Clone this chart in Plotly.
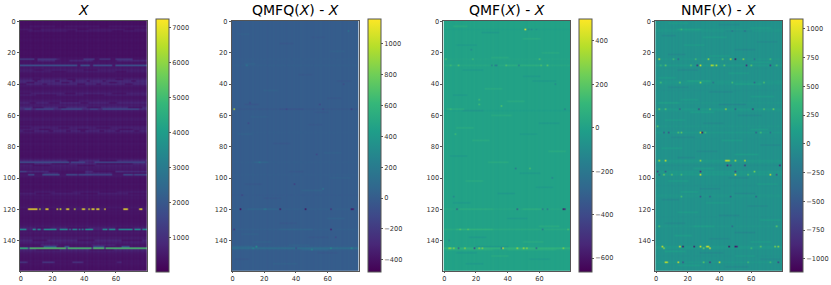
import plotly.graph_objects as go

N_ROWS = 160
N_COLS = 80
RANGES = [(10, 7220), (-482, 1159), (-666, 498), (-1119, 1081)]
TITLES = ["<i>X</i>", "QMFQ(<i>X</i>) - <i>X</i>", "QMF(<i>X</i>) - <i>X</i>", "NMF(<i>X</i>) - <i>X</i>"]
CB_TICKS = [
    [1000, 2000, 3000, 4000, 5000, 6000, 7000],
    [-400, -200, 0, 200, 400, 600, 800, 1000],
    [-600, -400, -200, 0, 200, 400],
    [-1000, -750, -500, -250, 0, 250, 500, 750, 1000],
]
ROW_TICKS = [0, 20, 40, 60, 80, 100, 120, 140]
COL_TICKS = [0, 20, 40, 60]

x_rows = [
    300, 320, 300, 480, 340, 500, 520, 320, 300, 340,
    300, 340, 360, 320, 300, 340, 320, 350, 300, 330,
    340, 320, 300, 380, 700, 800, 420, 450, 1500, 480,
    500, 600, 560, 420, 400, 380, 500, 650, 850, 750,
    800, 520, 420, 400, 460, 520, 650, 600, 420, 400,
    480, 560, 750, 550, 600, 850, 1000, 500, 420, 400,
    380, 420, 500, 520, 400, 440, 380, 550, 650, 600,
    750, 560, 420, 380, 360, 400, 380, 340, 420, 400,
    360, 380, 340, 400, 360, 350, 340, 380, 500, 800,
    1200, 750, 600, 560, 520, 480, 850, 700, 1100, 480,
    380, 360, 380, 340, 420, 360, 350, 380, 420, 560,
    600, 500, 420, 450, 400, 380, 380, 400, 420, 500,
    600, 420, 380, 400, 360, 350, 340, 380, 360, 400,
    420, 500, 650, 700, 420, 500, 450, 420, 550, 560,
    750, 650, 550, 700, 900, 1500, 700, 600, 480, 420,
    400, 380, 360, 420, 750, 420, 380, 350, 340, 320,
]
x_cols = [
    1.0, 0.9, 1.1, 0.95, 1.05, 0.9, 1.15, 1.0, 0.85, 1.1,
    0.95, 1.05, 0.9, 1.0, 1.2, 0.9, 1.05, 0.95, 1.1, 0.85,
    1.0, 1.1, 0.9, 1.05, 0.95, 1.15, 0.9, 1.0, 1.1, 0.85,
    1.05, 0.95, 1.1, 0.9, 1.0, 1.15, 0.85, 1.05, 0.95, 1.1,
    0.9, 1.0, 1.2, 0.9, 1.05, 0.85, 1.1, 0.95, 1.0, 1.15,
    0.9, 1.05, 0.95, 1.1, 0.85, 1.0, 1.1, 0.9, 1.05, 0.95,
    1.15, 0.9, 1.0, 1.1, 0.85, 1.05, 0.95, 1.1, 0.9, 1.0,
    1.15, 0.9, 1.05, 0.95, 1.1, 0.85, 1.0, 1.1, 0.9, 1.05,
]
# (row, first column, last column, value)
x_gaps = [
    (3, 0, 5, 340), (3, 22, 27, 340), (3, 50, 55, 330), (5, 8, 12, 330), (5, 36, 42, 320), (5, 66, 71, 330),
    (6, 0, 4, 320), (6, 30, 34, 340), (6, 58, 64, 320),
    (31, 9, 14, 400), (31, 40, 48, 400), (32, 20, 28, 380), (32, 60, 66, 380),
    (37, 8, 12, 420), (37, 30, 34, 400), (37, 60, 64, 420), (38, 9, 10, 420), (38, 22, 24, 420), (38, 33, 34, 400),
    (38, 42, 43, 400), (38, 52, 53, 400), (38, 70, 72, 400), (39, 4, 8, 400), (39, 26, 30, 420), (39, 56, 60, 400),
    (40, 0, 3, 400), (40, 14, 16, 420), (40, 36, 40, 400), (40, 48, 50, 400), (40, 66, 70, 420),
    (46, 0, 6, 420), (46, 28, 34, 400), (46, 58, 66, 420), (47, 10, 22, 400), (47, 40, 52, 400),
    (52, 6, 9, 400), (52, 18, 24, 420), (52, 38, 42, 400), (52, 56, 60, 400), (51, 26, 36, 400),
    (55, 8, 14, 450), (55, 24, 28, 450), (55, 42, 50, 450), (55, 68, 76, 450),
    (68, 0, 6, 400), (68, 24, 30, 400), (68, 48, 56, 400), (69, 12, 18, 380), (69, 36, 42, 400), (69, 62, 70, 400),
    (70, 2, 8, 420), (70, 18, 20, 400), (70, 29, 31, 400), (70, 38, 40, 400), (70, 50, 52, 400), (70, 60, 62, 400), (70, 72, 74, 400),
    (89, 30, 36, 400), (89, 50, 60, 400), (91, 0, 8, 400), (91, 20, 30, 420), (91, 48, 70, 400), (92, 8, 18, 400), (92, 36, 46, 400),
    (97, 0, 14, 400), (97, 24, 40, 400), (97, 58, 79, 400), (96, 18, 40, 400), (96, 46, 60, 400),
    (109, 0, 8, 380), (109, 22, 32, 380), (109, 50, 60, 380), (110, 10, 18, 380), (110, 38, 48, 380), (110, 68, 79, 400),
    (120, 0, 4, 350), (120, 11, 11, 350), (120, 18, 22, 360), (120, 31, 33, 380), (120, 54, 64, 380), (120, 68, 74, 380),
    (132, 10, 18, 400), (132, 30, 42, 400), (132, 60, 70, 400), (140, 8, 16, 400), (140, 36, 46, 400), (140, 64, 76, 400),
    (143, 0, 12, 400), (143, 24, 44, 420), (143, 60, 79, 420), (146, 10, 24, 400), (146, 44, 58, 400),
    (154, 5, 13, 380), (154, 22, 32, 380), (154, 40, 60, 380), (154, 64, 79, 400),
    (24, 9, 10, 400), (24, 25, 39, 420), (24, 47, 49, 400), (24, 57, 59, 400), (24, 71, 79, 420),
    (25, 0, 10, 420), (25, 22, 30, 420), (25, 46, 60, 400),
    (90, 31, 31, 500), (90, 41, 46, 700), (90, 79, 79, 500),
    (144, 0, 14, 500), (144, 23, 27, 500), (144, 31, 45, 500), (144, 53, 63, 500), (144, 69, 79, 500),
]
x_spans = [
    (24, 0, 8, 1300), (24, 11, 22, 1200), (24, 40, 46, 1200), (24, 50, 56, 1100),
    (24, 60, 70, 1200), (28, 0, 35, 1800), (28, 38, 43, 1800), (28, 46, 57, 1700), (28, 60, 79, 1800),
    (28, 36, 37, 500), (28, 44, 45, 500), (28, 58, 59, 500),
    (56, 3, 6, 1700), (56, 10, 20, 1600), (56, 26, 38, 1700), (56, 44, 48, 1600), (56, 52, 74, 1700),
    (90, 0, 30, 1700), (90, 32, 40, 1500), (90, 47, 78, 1500),
    (98, 0, 4, 500), (98, 9, 13, 500), (98, 25, 28, 500), (98, 58, 64, 500),
    (98, 5, 8, 1700), (98, 14, 24, 1800), (98, 29, 35, 1700), (98, 37, 44, 1600), (98, 45, 57, 1500),
    (98, 65, 70, 1700), (98, 72, 79, 1600), (96, 0, 3, 1400), (96, 60, 64, 1000),
    (120, 5, 6, 7100), (120, 7, 10, 7100), (120, 12, 12, 6400), (120, 16, 17, 7100), (120, 23, 23, 6800),
    (120, 25, 25, 6800), (120, 29, 30, 7100), (120, 34, 34, 6500), (120, 39, 40, 7100), (120, 43, 43, 6800),
    (120, 45, 46, 7100), (120, 48, 49, 7100), (120, 53, 53, 7000), (120, 65, 67, 7100), (120, 75, 76, 7100),
    (133, 0, 3, 3300), (133, 8, 9, 3200), (133, 11, 12, 3000), (133, 15, 22, 3300), (133, 25, 29, 3200),
    (133, 31, 31, 2800), (133, 33, 35, 3100), (133, 37, 37, 2800), (133, 39, 39, 3000), (133, 41, 45, 3300),
    (133, 52, 54, 3200), (133, 56, 59, 3300), (133, 62, 66, 3200), (133, 67, 70, 3300), (133, 72, 75, 3300),
    (133, 77, 79, 3200),
    (144, 15, 22, 1900), (144, 28, 30, 1700), (144, 46, 52, 1600), (144, 64, 68, 1700),
    (145, 0, 4, 4800), (145, 6, 28, 5200), (145, 30, 44, 5100), (145, 46, 52, 5200), (145, 54, 79, 5100),
    (145, 29, 29, 1200), (145, 45, 45, 1200), (145, 53, 53, 1200), (145, 5, 5, 1500),
    (154, 0, 3, 1100), (154, 14, 20, 1100), (154, 33, 38, 1000),
]

qmfq_row_levels = {24: 8, 28: 12, 56: -25, 71: 6, 90: 8, 98: 8, 111: -10, 120: 20, 133: 15, 145: 110, 146: 15, 144: 15}
qmfq_cols = [
    -8, 6, -4, 10, 0, -10, 6, -6, 4, -2, 8, -8, 2, 10, -4, 0, 6, -8, 4, -6,
    8, -2, -10, 6, 2, -6, 10, -4, 0, 6, -8, 4, -4, 8, -10, 2, 6, -6, 0, 8,
    -4, 4, -8, 10, -2, 0, 6, -6, 8, -4, 2, -10, 6, 0, -6, 8, 4, -8, 2, 6,
    -4, 10, -8, 0, 4, -6, 8, -2, 6, -10, 2, 4, -6, 8, 0, -4, 6, -8, 2, -2,
]
# (row, first column, last column, offset added to the cells)
qmfq_mottle = [
    (8, 4, 10, 25), (14, 30, 38, -25), (19, 62, 70, 25), (27, 8, 14, 30), (34, 42, 50, -25), (44, 20, 28, 25),
    (49, 60, 68, -25), (53, 8, 16, -35), (56, 30, 44, -30), (61, 12, 22, 25), (66, 48, 56, -25), (72, 4, 12, 30),
    (78, 26, 36, -25), (84, 58, 68, 25), (90, 14, 22, 40), (96, 36, 44, -25), (100, 62, 74, 25), (104, 8, 18, -30),
    (108, 44, 56, 35), (113, 20, 30, -25), (120, 10, 28, 35), (126, 60, 70, 30), (129, 30, 40, -25), (136, 6, 16, 25),
    (138, 48, 60, -25), (141, 14, 24, 30), (143, 36, 48, 25), (148, 54, 66, -25), (152, 2, 10, -30), (155, 26, 40, 25),
    (144, 0, 12, 40), (146, 44, 60, 40), (133, 30, 50, 30), (10, 50, 58, -20), (38, 66, 74, -30), (58, 52, 60, -25),
]
qmfq_cells = [
    (56, 1, 1000), (120, 5, -450), (120, 30, -400), (120, 46, -440), (120, 62, -280), (120, 75, -420),
    (120, 76, -380), (133, 1, -220), (133, 62, -350), (104, 39, -180), (111, 6, -150), (145, 40, -120),
    (144, 15, 320), (145, 13, 300), (145, 62, 330), (146, 50, 280), (145, 75, 320), (120, 20, 160),
    (120, 21, 180), (107, 57, 180), (90, 17, 160), (52, 11, -120), (53, 55, -130), (56, 34, -140), (56, 57, -130),
    (56, 75, -180), (6, 73, 130), (28, 9, 150), (65, 10, -110), (40, 70, -100), (85, 53, -120), (138, 65, -130),
]

qmf_row_levels = {5: -10, 24: 10, 28: 25, 57: -15, 120: 20, 133: 30, 145: 80, 146: 15}
qmf_cols = [
    3, -5, 5, -2, 7, 0, -6, 3, 6, -4, 2, -7, 4, 0, 5, -3, 7, -5, 1, 4,
    -6, 3, -1, 6, -4, 0, 7, -2, 4, -6, 2, 5, -3, 0, -7, 6, 1, -4, 5, 3,
    -5, 7, -1, 2, -6, 4, 0, 5, -3, 6, -4, 1, -7, 3, 5, -2, 4, -5, 7, 0,
    -3, 6, 2, -6, 4, -1, 5, -4, 7, 0, -5, 3, 1, -3, 6, -6, 4, -1, 5, -2,
]
qmf_mottle = [
    (3, 6, 14, 40), (7, 24, 34, -40), (11, 50, 60, 40), (15, 8, 20, -35), (20, 62, 72, 35), (23, 30, 40, 35),
    (31, 12, 24, -35), (35, 50, 60, -35), (38, 56, 70, -40), (43, 26, 36, 40), (47, 6, 14, -40), (51, 40, 50, 40),
    (56, 2, 12, 50), (57, 12, 24, -40), (60, 30, 42, 35), (65, 60, 72, -40), (68, 8, 18, 40), (72, 48, 58, -35),
    (76, 18, 28, 35), (83, 66, 76, 40), (86, 4, 14, -40), (90, 28, 40, 40), (97, 48, 60, -40), (102, 14, 24, 40),
    (106, 58, 68, -35), (110, 34, 44, -40), (116, 6, 16, -40), (120, 10, 30, 30), (120, 50, 62, 40), (126, 40, 52, -35),
    (131, 60, 72, 40), (133, 8, 30, 40), (138, 16, 26, -40), (141, 50, 62, 40), (148, 8, 20, -40), (150, 30, 40, 40),
    (152, 54, 66, -35), (155, 14, 24, -40), (146, 2, 30, 30), (146, 40, 70, 30), (144, 20, 40, -40), (28, 40, 60, 30),
]
qmf_cells = [
    (5, 51, 470), (5, 53, -90), (5, 55, -100), (5, 58, -70), (18, 17, -120), (24, 1, 150), (24, 18, 130),
    (24, 60, 170), (28, 9, 170), (28, 30, -160), (28, 32, -150), (28, 33, -170), (28, 39, 170), (28, 47, -150),
    (28, 61, 160), (28, 65, 180), (28, 4, 120), (54, 36, 170), (53, 22, 130), (56, 4, 130), (56, 76, -180), (50, 22, 140),
    (40, 70, -120), (72, 7, 130), (94, 45, -190), (94, 54, 150), (100, 68, -150), (112, 6, -140),
    (120, 8, -350), (120, 46, -360), (120, 75, -620), (120, 76, -520), (120, 62, -220), (120, 65, -200),
    (145, 3, 300), (145, 4, 280), (145, 6, 300), (145, 13, 320), (145, 19, -420), (145, 9, -320), (145, 22, 300),
    (145, 24, 280), (145, 37, 450), (145, 46, 340), (145, 52, 300), (145, 58, -280), (145, 50, 350), (145, 36, -200),
    (145, 75, 280), (133, 10, 170), (133, 15, 180), (133, 62, -180), (133, 78, 150), (140, 3, -130),
]

nmf_row_levels = {
    5: 25, 6: 35, 24: 40, 28: 60, 38: 30, 39: 40, 40: 25, 52: 30, 56: 60, 57: 30, 67: 25, 71: 50,
    89: 60, 90: 40, 92: -30, 96: 50, 97: 40, 98: 60, 111: 25, 112: 20, 131: 30, 144: 50, 145: 50, 154: 40,
    30: -15, 44: -15, 75: -15, 105: -20, 125: -15, 150: -15,
}
nmf_cols = [
    12, -16, 20, -8, 16, -20, 24, 4, -12, 16, -24, 12, -8, 20, -16, 8, 16, -20, 4, 24,
    -12, 16, -8, 20, -20, 12, -4, 16, -28, 20, 8, -16, 24, -8, 12, -20, 16, 4, -12, 20,
    -16, 8, 20, -24, 12, -8, 16, -20, 24, 4, -28, 16, -12, 8, 20, -16, 12, -24, 16, 4,
    -8, 20, -16, 12, -20, 24, 8, -12, 16, -20, 4, 20, -12, 16, -24, 12, -8, 20, -16, 8,
]
nmf_mottle = [
    (1, 8, 20, 70), (2, 40, 52, -70), (4, 60, 72, 70), (5, 14, 28, 90), (6, 44, 60, -70), (9, 4, 12, -80), (10, 30, 44, 70),
    (13, 64, 76, -70), (15, 18, 30, 70), (18, 50, 62, -80), (21, 8, 18, -70), (22, 34, 46, 70), (26, 60, 72, 70),
    (31, 14, 26, -80), (33, 46, 58, 70), (36, 2, 12, 80), (38, 20, 34, 100), (40, 50, 66, 90), (42, 8, 20, -70),
    (45, 34, 48, -80), (48, 60, 74, 70), (50, 16, 26, 70), (52, 2, 14, 90), (53, 40, 56, -90), (58, 22, 36, 80),
    (60, 52, 66, -70), (63, 6, 18, 70), (65, 30, 42, -70), (69, 60, 70, 70), (74, 10, 24, -70), (76, 42, 54, 70),
    (79, 66, 78, -80), (81, 4, 16, 80), (83, 26, 38, -70), (85, 50, 64, 80), (87, 14, 24, -70), (94, 24, 36, 70),
    (100, 46, 58, -80), (102, 8, 20, 80), (104, 64, 76, 70), (107, 28, 40, -80), (109, 16, 26, 90), (110, 50, 62, -70),
    (114, 4, 14, -80), (116, 32, 46, 70), (118, 58, 70, -70), (122, 14, 26, 70), (124, 40, 52, -80), (127, 66, 78, 80),
    (129, 6, 18, -70), (131, 24, 36, 70), (135, 50, 62, -80), (137, 12, 22, 80), (139, 34, 46, -70), (141, 60, 72, 80),
    (147, 6, 18, 90), (148, 28, 42, -80), (150, 50, 62, 70), (152, 66, 78, -70), (156, 14, 28, 70), (157, 44, 58, -70),
]
nmf_cells = [
    (24, 2, 900), (24, 14, -450), (24, 25, 450), (24, 33, 800), (24, 47, 850), (24, 50, -1050), (24, 55, 700),
    (24, 11, 400), (24, 42, 500), (24, 62, -300), (24, 72, 400),
    (28, 3, 300), (28, 6, 500), (28, 22, 450), (28, 26, -800), (28, 28, 900), (28, 35, 850), (28, 36, 700), (28, 38, 800),
    (28, 43, 500), (28, 57, -800), (28, 60, 500), (28, 72, -700), (28, 76, 400),
    (39, 3, 400), (39, 15, 500), (39, 28, 650), (39, 36, -300), (39, 48, 400), (39, 62, -400), (39, 68, 450),
    (56, 2, 600), (56, 6, 500), (56, 15, -500), (56, 27, -700), (56, 34, 500), (56, 44, 800), (56, 50, -500), (56, 61, -800),
    (56, 68, 500), (56, 74, 600),
    (71, 5, -500), (71, 8, -600), (71, 14, 450), (71, 16, 500), (71, 28, 850), (71, 29, -1050), (71, 31, 400),
    (71, 63, -450), (71, 66, 400), (71, 72, -300), (5, 16, 350), (6, 48, -300), (6, 56, -350), (67, 1, 500),
    (89, 2, 800), (89, 6, 900), (89, 28, 700), (89, 44, 900), (89, 45, 850), (89, 46, 850), (89, 50, 800), (89, 56, 850),
    (92, 45, -800), (92, 56, -800), (92, 78, -900), (92, 47, -500),
    (96, 1, -700), (96, 6, -500), (96, 28, -800), (96, 50, -700), (96, 62, 600),
    (98, 2, -500), (98, 5, 600), (98, 10, 500), (98, 16, 400), (98, 28, 950), (98, 50, 1000), (98, 58, 500), (98, 72, 950), (98, 76, -600),
    (112, 16, 400), (112, 28, -500), (112, 34, -400), (112, 47, -500), (112, 63, -450),
    (131, 2, 450), (131, 48, -400), (131, 76, 500),
    (144, 4, 900), (144, 15, 950), (144, 17, -1050), (144, 24, -1000), (144, 28, 900), (144, 32, 950), (144, 33, 900),
    (144, 46, -1050), (144, 50, -1000), (144, 51, -900), (144, 66, 500), (144, 77, 700), (144, 75, 650),
    (145, 5, 700), (145, 30, 600), (145, 34, 1000), (145, 60, 400),
    (154, 6, 900), (154, 7, 850), (154, 14, 950), (154, 17, -600), (154, 34, -800), (154, 40, 900), (154, 77, -700),
    (154, 30, 500), (154, 58, 400), (154, 72, 400),
]


def diff_panel(row_levels, col_levels, mottle, cells):
    z = [[row_levels.get(r, 0) + col_levels[c] for c in range(N_COLS)] for r in range(N_ROWS)]
    for r, a, b, v in mottle:
        for c in range(a, b + 1):
            z[r][c] += v
    for r, c, v in cells:
        z[r][c] = v
    return z


x_z = [[x_rows[r] * x_cols[c] for c in range(N_COLS)] for r in range(N_ROWS)]
for r, a, b, v in x_gaps:
    for c in range(a, b + 1):
        x_z[r][c] = v * x_cols[c]
for r, a, b, v in x_spans:
    for c in range(a, b + 1):
        x_z[r][c] = v

PANELS = [
    x_z,
    diff_panel(qmfq_row_levels, qmfq_cols, qmfq_mottle, qmfq_cells),
    diff_panel(qmf_row_levels, qmf_cols, qmf_mottle, qmf_cells),
    diff_panel(nmf_row_levels, nmf_cols, nmf_mottle, nmf_cells),
]

W, H = 831, 285
PLOT_TOP, PLOT_BOTTOM = 18, 271
PLOT_LEFT = [19, 231, 443, 655]
PLOT_W = 127
CB_LEFT = [155, 367, 579, 790]
CB_W = 12.5
FONT = "DejaVu Sans"
AXC = "#555555"

fig = go.Figure()
annotations = []
for i, z in enumerate(PANELS):
    n = "" if i == 0 else str(i + 1)
    fig.add_trace(go.Heatmap(
        z=z, xaxis="x" + n, yaxis="y" + n, colorscale="Viridis",
        zmin=RANGES[i][0], zmax=RANGES[i][1], zsmooth="fast", hoverinfo="skip",
        colorbar=dict(
            x=CB_LEFT[i] / W, xanchor="left", xref="paper", y=(H - (PLOT_TOP + PLOT_BOTTOM) / 2) / H,
            yanchor="middle", yref="paper", lenmode="pixels", len=PLOT_BOTTOM - PLOT_TOP,
            thicknessmode="pixels", thickness=CB_W, outlinewidth=1, outlinecolor=AXC,
            tickvals=CB_TICKS[i], ticktext=[str(t).replace("-", "\u2212") for t in CB_TICKS[i]],
            ticks="outside", ticklen=2, tickwidth=0.7, tickcolor=AXC,
            tickfont=dict(family=FONT, size=6.6, color="#333333"), xpad=0, ypad=0,
        ),
    ))
    fig.update_layout({
        "xaxis" + n: dict(
            domain=[PLOT_LEFT[i] / W, (PLOT_LEFT[i] + PLOT_W) / W], range=[-0.5, N_COLS - 0.5],
            tickvals=COL_TICKS, ticks="outside", ticklen=1, tickwidth=0.7, tickcolor=AXC, showgrid=False,
            zeroline=False, showline=True, linecolor=AXC, linewidth=1, mirror=True,
            tickfont=dict(family=FONT, size=6.6, color="#333333"), anchor="y" + n,
        ),
        "yaxis" + n: dict(
            domain=[(H - PLOT_BOTTOM) / H, (H - PLOT_TOP) / H], range=[N_ROWS - 0.5, -0.5],
            tickvals=ROW_TICKS, ticks="outside", ticklen=2, tickwidth=0.7, tickcolor=AXC, showgrid=False,
            zeroline=False, showline=True, linecolor=AXC, linewidth=1, mirror=True,
            tickfont=dict(family=FONT, size=6.6, color="#333333"), anchor="x" + n,
        ),
    })
    annotations.append(dict(
        text=TITLES[i], xref="paper", yref="paper", x=(PLOT_LEFT[i] + PLOT_W / 2) / W, y=(H - 17) / H,
        xanchor="center", yanchor="bottom", showarrow=False, font=dict(family=FONT, size=14, color="black"),
    ))

fig.update_layout(
    width=W, height=H, margin=dict(l=0, r=0, t=0, b=0), autosize=False,
    paper_bgcolor="white", plot_bgcolor="white", annotations=annotations, showlegend=False,
)
fig.write_html("out.html", post_script="document.body.style.margin='0';", config={"displayModeBar": False})
